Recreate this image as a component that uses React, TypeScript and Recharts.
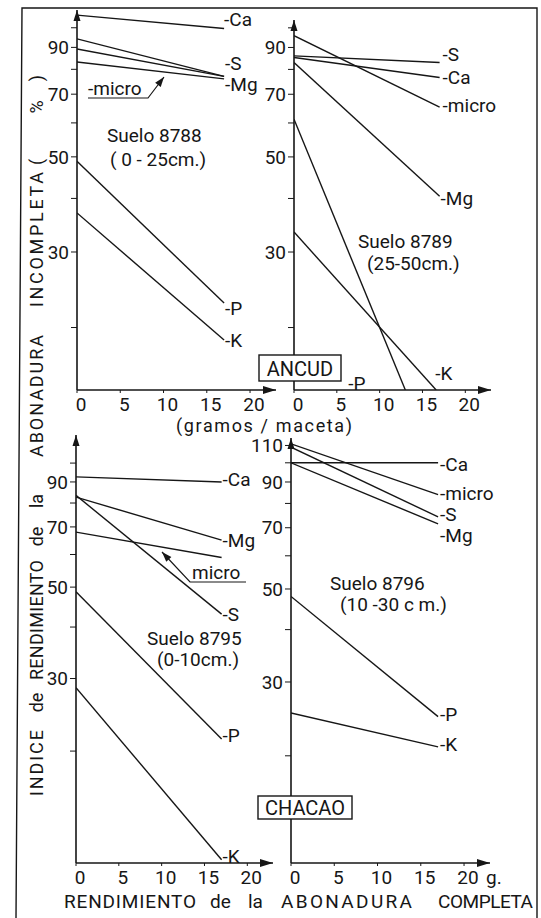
import React from "react";
import { LineChart, Line, XAxis, YAxis, ReferenceDot } from "recharts";

const FONT = "Roboto, 'DejaVu Sans', sans-serif";
const INK = "#161616";

// g/maceta where each line starts and ends
const xFull = [0, 17];
const xP8789 = [0, 13];
const xK8789 = [0, 16.6];

const xTicks = [0, 5, 10, 15, 20];
const yTicksTop = [20, 30, 40, 50, 60, 70, 80, 90, 100];
const yTicksBL = [20, 30, 40, 50, 60, 70, 80, 90, 100];
const yTicksBR = [20, 30, 40, 50, 60, 70, 80, 90, 100, 110];
const yLabelled = [30, 50, 70, 90, 110];

// Suelo 8788 (Ancud, 0-25 cm)
const ca8788 = [107, 99.6];
const s8788 = [94.2, 77];
const mg8788 = [89.2, 77];
const micro8788 = [83.2, 76];
const p8788 = [48.8, 22.8];
const k8788 = [37, 18.7];

// Suelo 8789 (Ancud, 25-50 cm)
const s8789 = [86, 83];
const ca8789 = [85.3, 76.6];
const micro8789 = [95.9, 65.3];
const mg8789 = [83, 40.5];
const p8789 = [61.2, 14.3];
const k8789 = [33.4, 14.3];

// Suelo 8795 (Chacao, 0-10 cm)
const ca8795 = [92.6, 90];
const mg8795 = [82.7, 65];
const s8795 = [83.5, 43];
const micro8795 = [68, 59];
const p8795 = [48.7, 21.4];
const k8795 = [28.5, 10.9];

// Suelo 8796 (Chacao, 10-30 cm)
const ca8796 = [100, 100];
const micro8796 = [111, 84];
const s8796 = [109, 74.3];
const mg8796 = [100, 71.5];
const p8796 = [48, 24.8];
const k8796 = [25.3, 21];

type Series = { name: string; x: number[]; v: number[]; lab?: [number, number] };

// label offsets [dx, dy] from the line end, in px
const panels = [
  {
    id: "8788", left: 77, top: 10, plotW: 199, plotH: 380, yDomain: [14.3, 110], yTicks: yTicksTop,
    series: [
      { name: "Ca", x: xFull, v: ca8788, lab: [0, -9] },
      { name: "S", x: xFull, v: s8788, lab: [1, -13] },
      { name: "Mg", x: xFull, v: mg8788, lab: [1, 8] },
      { name: "micro", x: xFull, v: micro8788 },
      { name: "P", x: xFull, v: p8788, lab: [1, 5] },
      { name: "K", x: xFull, v: k8788, lab: [1, 0] },
    ] as Series[],
  },
  {
    id: "8789", left: 294, top: 20, plotW: 197, plotH: 370, yDomain: [14.3, 104.3], yTicks: yTicksTop,
    series: [
      { name: "S", x: xFull, v: s8789, lab: [3, -8] },
      { name: "Ca", x: xFull, v: ca8789, lab: [3, 0] },
      { name: "micro", x: xFull, v: micro8789, lab: [3, -2] },
      { name: "Mg", x: xFull, v: mg8789, lab: [1, 2] },
      { name: "P", x: xP8789, v: p8789, lab: [-57, -7] },
      { name: "K", x: xK8789, v: k8789, lab: [-1, -17] },
    ] as Series[],
  },
  {
    id: "8795", left: 76, top: 435, plotW: 197, plotH: 428, yDomain: [10.7, 117], yTicks: yTicksBL,
    series: [
      { name: "Ca", x: xFull, v: ca8795, lab: [1, -2] },
      { name: "Mg", x: xFull, v: mg8795, lab: [1, 0] },
      { name: "S", x: xFull, v: s8795, lab: [1, 0] },
      { name: "micro", x: xFull, v: micro8795 },
      { name: "P", x: xFull, v: p8795, lab: [1, -3] },
      { name: "K", x: xFull, v: k8795, lab: [1, -3] },
    ] as Series[],
  },
  {
    id: "8796", left: 291, top: 438, plotW: 199, plotH: 425, yDomain: [11.1, 114.6], yTicks: yTicksBR,
    series: [
      { name: "Ca", x: xFull, v: ca8796, lab: [2, 2] },
      { name: "micro", x: xFull, v: micro8796, lab: [2, -1] },
      { name: "S", x: xFull, v: s8796, lab: [2, -2] },
      { name: "Mg", x: xFull, v: mg8796, lab: [2, 12] },
      { name: "P", x: xFull, v: p8796, lab: [2, -2] },
      { name: "K", x: xFull, v: k8796, lab: [2, -2] },
    ] as Series[],
  },
];

const ML = 50, MT = 14, MR = 80, MB = 34;
const X_MAX = 23;

const arrowRight = ({ cx, cy }: any) => (
  <path d={`M${cx - 13},${cy - 4} L${cx},${cy} L${cx - 13},${cy + 4} Z`} fill={INK} />
);
const arrowUp = ({ cx, cy }: any) => (
  <path d={`M${cx - 3.5},${cy + 11} L${cx},${cy} L${cx + 3.5},${cy + 11} Z`} fill={INK} />
);

function Panel({ left, top, plotW, plotH, yDomain, yTicks, series }: any) {
  return (
    <div style={{ position: "absolute", left: left - ML, top: top - MT }}>
      <LineChart width={ML + plotW + MR} height={MT + plotH + MB} margin={{ top: MT, right: MR, left: 0, bottom: 0 }}>
        <XAxis
          type="number" dataKey="x" domain={[0, X_MAX]} ticks={xTicks} interval={0} allowDataOverflow
          height={MB} tickSize={3} tickMargin={5}
          axisLine={{ stroke: INK, strokeWidth: 1.6 }} tickLine={{ stroke: INK }}
          tick={{ fill: INK, fontSize: 19, fontFamily: FONT, dx: 4 }}
        />
        <YAxis
          type="number" dataKey="v" scale="log" domain={yDomain} ticks={yTicks} interval={0} allowDataOverflow
          width={ML} tickSize={6} tickMargin={2}
          axisLine={{ stroke: INK, strokeWidth: 1.6 }} tickLine={{ stroke: INK }}
          tick={{ fill: INK, fontSize: 19, fontFamily: FONT }}
          tickFormatter={(v: number) => (yLabelled.includes(v) ? String(v) : "")}
        />
        {series.map((s: Series) => (
          <Line
            key={s.name} data={s.x.map((x, i) => ({ x, v: s.v[i] }))} dataKey="v" type="linear"
            stroke={INK} strokeWidth={1.4} dot={false} activeDot={false} isAnimationActive={false}
          />
        ))}
        {series.filter((s: Series) => s.lab).map((s: Series) => {
          const n = s.x.length - 1;
          const [dx, dy] = s.lab as [number, number];
          return (
            <ReferenceDot
              key={"l" + s.name} x={s.x[n]} y={s.v[n]} r={0} ifOverflow="visible"
              shape={({ cx, cy }: any) => (
                <text x={cx + dx} y={cy + dy + 6.5} fill={INK} fontSize={19} fontFamily={FONT}>{"-" + s.name}</text>
              )}
            />
          );
        })}
        <ReferenceDot x={X_MAX} y={yDomain[0]} r={0} ifOverflow="visible" shape={arrowRight} />
        <ReferenceDot x={0} y={yDomain[1]} r={0} ifOverflow="visible" shape={arrowUp} />
      </LineChart>
    </div>
  );
}

function head(x1: number, y1: number, x2: number, y2: number) {
  const a = Math.atan2(y2 - y1, x2 - x1);
  const L = 10, W = 3.5;
  const bx = x2 - L * Math.cos(a), by = y2 - L * Math.sin(a);
  const px = -Math.sin(a) * W, py = Math.cos(a) * W;
  return `M${x2},${y2} L${bx + px},${by + py} L${bx - px},${by - py} Z`;
}

const T = (p: any) => <text fill={INK} fontFamily={FONT} fontSize={19} {...p} />;

const sideWords = [
  { t: "INDICE", a: 730, b: 796 },
  { t: "de", a: 694, b: 711 },
  { t: "RENDIMIENTO", a: 560, b: 680 },
  { t: "de", a: 528, b: 545 },
  { t: "la", a: 492, b: 510 },
  { t: "ABONADURA", a: 335, b: 457 },
  { t: "INCOMPLETA", a: 172, b: 307 },
  { t: "(", a: 156, b: 168 },
  { t: "%", a: 98, b: 116 },
  { t: ")", a: 72, b: 84 },
];

const bottomWords = [
  { t: "RENDIMIENTO", a: 64, b: 196 },
  { t: "de", a: 210, b: 234 },
  { t: "la", a: 248, b: 268 },
  { t: "ABONADURA", a: 281, b: 412 },
  { t: "COMPLETA", a: 438, b: 533 },
];

const fit = (w: { t: string; a: number; b: number }) =>
  w.t.length > 3 ? { textLength: w.b - w.a, lengthAdjust: "spacing" } : {};

export default function App() {
  return (
    <div style={{ position: "absolute", left: 0, top: 0, width: 541, height: 918, background: "#fff", overflow: "hidden" }}>
      {panels.map((p) => <Panel key={p.id} {...p} />)}
      <svg width={541} height={918} style={{ position: "absolute", left: 0, top: 0, pointerEvents: "none" }}>
        {/* frame */}
        <path d="M16,918 L22,8 L537,8 L537,918" fill="none" stroke={INK} strokeWidth={1.4} />
        {/* side title */}
        {sideWords.map((w, i) => {
          const c = (w.a + w.b) / 2;
          return (
            <T key={i} x={43} y={c} fontSize={18} textAnchor="middle" transform={`rotate(-90 43 ${c})`} {...fit(w)}>
              {w.t}
            </T>
          );
        })}
        {/* bottom title */}
        {bottomWords.map((w, i) => (
          <T key={i} x={w.a} y={908} fontSize={19} {...fit(w)}>{w.t}</T>
        ))}
        <T x={176} y={432} fontSize={18} textLength={176} lengthAdjust="spacing">(gramos / maceta)</T>
        <T x={486} y={884}>g.</T>
        {/* captions */}
        <T x={107} y={142}>Suelo 8788</T>
        <T x={110} y={166}>( 0 - 25cm.)</T>
        <T x={358} y={248}>Suelo 8789</T>
        <T x={367} y={270}>(25-50cm.)</T>
        <T x={147} y={645}>Suelo 8795</T>
        <T x={157} y={666}>(0-10cm.)</T>
        <T x={330} y={590}>Suelo 8796</T>
        <T x={340} y={611}>(10 -30 c m.)</T>
        {/* place boxes */}
        <rect x={259} y={355} width={82} height={26} fill="#fff" stroke={INK} strokeWidth={1.4} />
        <T x={300} y={376} fontSize={20} textAnchor="middle">ANCUD</T>
        <rect x={258} y={796} width={94} height={23} fill="#fff" stroke={INK} strokeWidth={1.4} />
        <T x={305} y={815} fontSize={20} textAnchor="middle">CHACAO</T>
        {/* micro pointers */}
        <T x={88} y={95}>-micro</T>
        <path d="M88,98 L148,98 L164,77" fill="none" stroke={INK} strokeWidth={1.2} />
        <path d={head(148, 98, 164, 77)} fill={INK} />
        <T x={192} y={579}>micro</T>
        <path d="M246,582 L190,582 L162,552" fill="none" stroke={INK} strokeWidth={1.2} />
        <path d={head(190, 582, 162, 552)} fill={INK} />
      </svg>
    </div>
  );
}
